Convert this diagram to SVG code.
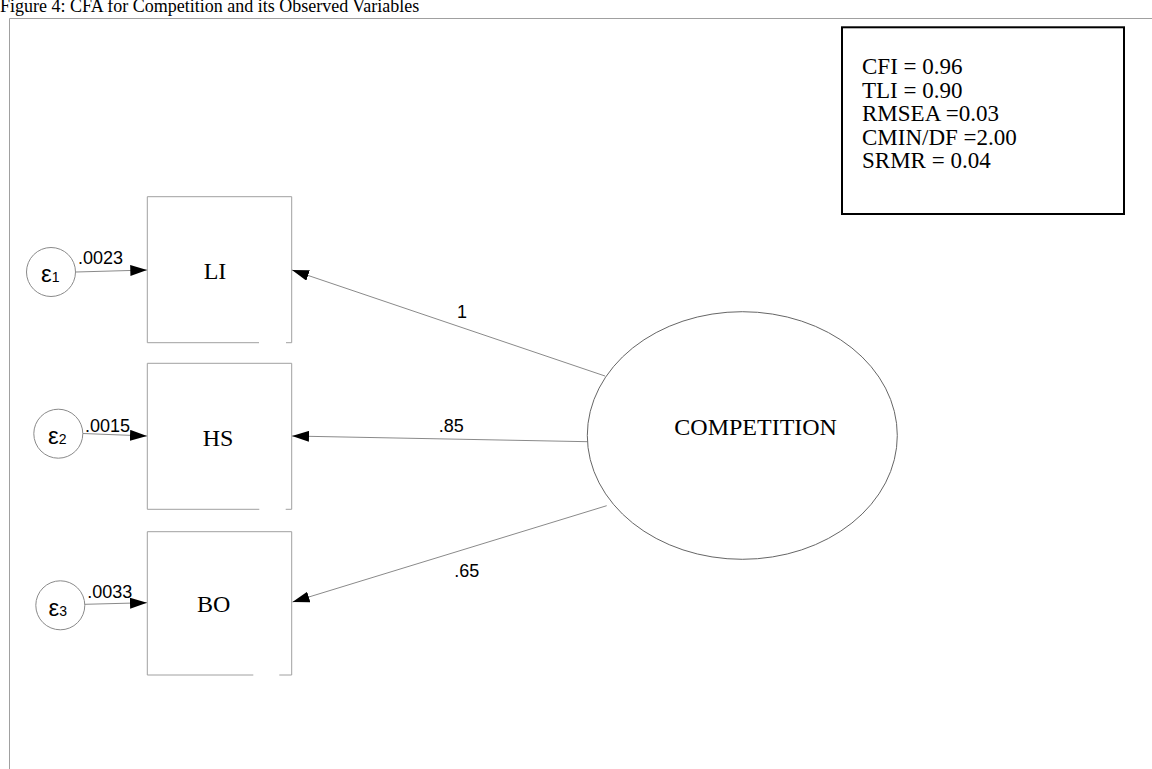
<svg xmlns="http://www.w3.org/2000/svg" width="1152" height="769" viewBox="0 0 1152 769">
<defs>
<style>
.serif{font-family:"Liberation Serif","Times New Roman",serif;fill:#000}
.sans{font-family:"Liberation Sans",Arial,sans-serif;fill:#000}
.box{fill:none;stroke:#a0a0a0;stroke-width:1}
.conn{fill:none;stroke:#8a8a8a;stroke-width:1}
.err{fill:#fff;stroke:#8a8a8a;stroke-width:1}
</style>
<marker id="ah" viewBox="0 0 17 11" refX="17" refY="5.5" markerWidth="17" markerHeight="11" markerUnits="userSpaceOnUse" orient="auto">
<path d="M0,0 L17,5.5 L0,11 Z" fill="#000"/>
</marker>
</defs>
<rect width="1152" height="769" fill="#fff"/>
<text class="serif" x="0" y="11.5" font-size="18">Figure 4: CFA for Competition and its Observed Variables</text>
<path d="M9.5,769 V18.5 H1152" fill="none" stroke="#a0a0a0" stroke-width="1"/>

<g id="connectors">
<path class="conn" d="M76,272 L147.3,270" marker-end="url(#ah)"/>
<path class="conn" d="M83,433.5 L147,436" marker-end="url(#ah)"/>
<path class="conn" d="M85,604.3 L147,602.7" marker-end="url(#ah)"/>
<path class="conn" d="M605,376 L292,270" marker-end="url(#ah)"/>
<path class="conn" d="M587.5,441.7 L292,436" marker-end="url(#ah)"/>
<path class="conn" d="M606.7,505.7 L292.5,602" marker-end="url(#ah)"/>
<text class="sans" x="78" y="264" font-size="18">.0023</text>
<text class="sans" x="85" y="431.7" font-size="18">.0015</text>
<text class="sans" x="87.3" y="598.3" font-size="18">.0033</text>
<text class="sans" x="462" y="318" font-size="18" text-anchor="middle">1</text>
<text class="sans" x="451.3" y="431.7" font-size="18" text-anchor="middle">.85</text>
<text class="sans" x="466.7" y="576.7" font-size="18" text-anchor="middle">.65</text>
</g>

<g id="e1">
<circle class="err" cx="51" cy="272" r="24.5"/>
<text class="sans" x="41" y="282" font-size="24">ε<tspan font-size="14">1</tspan></text>
</g>
<g id="e2">
<circle class="err" cx="58.3" cy="433.7" r="24.5"/>
<text class="sans" x="48" y="444" font-size="24">ε<tspan font-size="14">2</tspan></text>
</g>
<g id="e3">
<circle class="err" cx="60.3" cy="605.3" r="24.5"/>
<text class="sans" x="48.5" y="616" font-size="24">ε<tspan font-size="14">3</tspan></text>
</g>

<g id="LI">
<path class="box" d="M259,342.7 H147.3 V196.7 H291.7 V342.7 H286"/>
<text class="serif" x="215" y="279.3" font-size="24" text-anchor="middle">LI</text>
</g>
<g id="HS">
<path class="box" d="M259.3,509.3 H147.3 V363.3 H291.7 V509.3 H285.7"/>
<text class="serif" x="218" y="446" font-size="24" text-anchor="middle">HS</text>
</g>
<g id="BO">
<path class="box" d="M253.3,675 H147.3 V531.7 H291.7 V675 H279.3"/>
<text class="serif" x="213.7" y="611.7" font-size="24" text-anchor="middle">BO</text>
</g>

<g id="COMPETITION">
<ellipse cx="742.3" cy="435.5" rx="155" ry="123.8" fill="none" stroke="#666" stroke-width="1"/>
<text class="serif" x="674.3" y="435" font-size="24">COMPETITION</text>
</g>

<g id="fit">
<rect x="842" y="27.3" width="282" height="186.7" fill="#fff" stroke="#000" stroke-width="2"/>
<text class="serif" font-size="23">
<tspan x="862" y="74">CFI = 0.96</tspan>
<tspan x="862" y="97.5">TLI = 0.90</tspan>
<tspan x="862" y="121">RMSEA =0.03</tspan>
<tspan x="862" y="144.5">CMIN/DF =2.00</tspan>
<tspan x="862" y="168">SRMR = 0.04</tspan>
</text>
</g>
</svg>
